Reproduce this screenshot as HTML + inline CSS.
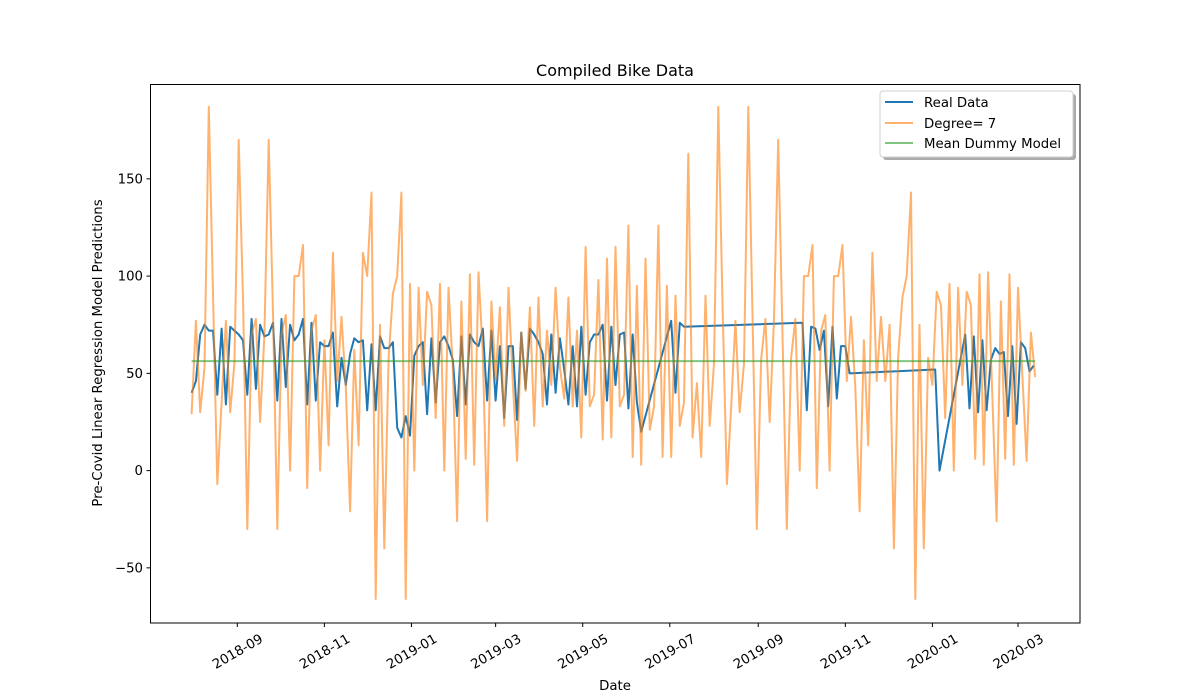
<!DOCTYPE html>
<html><head><meta charset="utf-8"><title>Compiled Bike Data</title>
<style>
html,body{margin:0;padding:0;background:#fff;}
svg{display:block;font-family:"DejaVu Sans","Liberation Sans",sans-serif;}
</style></head>
<body>
<svg id="chart" width="1200" height="700" viewBox="0 0 1200 700" xmlns="http://www.w3.org/2000/svg">
<rect width="1200" height="700" fill="#fff"/>
<text x="615" y="76" font-size="16" text-anchor="middle">Compiled Bike Data</text>
<text x="615" y="690" font-size="13.3" text-anchor="middle">Date</text>
<text transform="translate(102,353) rotate(-90)" font-size="13.3" text-anchor="middle">Pre-Covid Linear Regression Model Predictions</text>
<g id="plot"></g>
<rect x="150.5" y="84.5" width="929.5" height="538.5" fill="none" stroke="#000" stroke-width="1"/>
<g id="xticks"></g>
<g id="yticks"></g>
<g>
  <rect x="883" y="94" width="193" height="66" rx="3" fill="#888" opacity="0.7"/>
  <rect x="880" y="91" width="193" height="66" rx="3" fill="#fff" stroke="#d0d0d0"/>
  <g>
    <line x1="885" y1="102" x2="913" y2="102" stroke="#1f77b4" stroke-width="2"/>
    <text x="924" y="107" font-size="13.3">Real Data</text>
  </g>
  <g>
    <line x1="885" y1="123" x2="913" y2="123" stroke="#ff7f0e" stroke-opacity="0.6" stroke-width="2"/>
    <text x="924" y="128" font-size="13.3">Degree= 7</text>
  </g>
  <g>
    <line x1="885" y1="143" x2="913" y2="143" stroke="#2ca02c" stroke-opacity="0.6" stroke-width="2"/>
    <text x="924" y="148" font-size="13.3">Mean Dummy Model</text>
  </g>
</g>
</svg>
<script>
// Days are offsets from 2018-08-01
const realDays = [-1,2,5,8,11,14,17,20,23,26,29,32,35,38,41,44,47,50,53,56,59,62,65,68,71,74,77,80,83,86,89,92,95,98,101,104,107,110,113,116,119,122,125,128,131,134,137,140,143,146,149,152,155,
158,161,164,167,170,173,176,179,182,185,188,191,194,197,200,203,206,209,212,215,218,221,224,227,230,233,236,239,242,245,248,251,254,257,260,263,266,269,272,275,278,281,284,287,290,293,296,299,302,305,308,
311,314,335,338,341,344,427,430,433,436,439,442,445,448,451,454,457,460,
520,523,541,544,547,550,553,556,559,562,565,568,571,574,577,580,583,586,589];
const realValues = [40,46,70,75,72,72,39,73,34,74,72,70,67,39,78,42,75,69,70,76,36,78,43,75,67,70,78,34,76,36,66,64,64,71,33,58,44,60,68,66,67,31,65,31,69,63,63,66,22,17,28,18,59,
64,66,29,68,35,66,69,64,57,28,69,34,70,66,64,73,36,72,36,64,27,64,64,26,71,42,73,70,66,60,34,70,40,68,52,34,64,33,74,39,66,70,70,75,36,74,44,70,71,32,70,
35,20,77,40,76,74,76,31,74,73,62,72,33,74,37,64,64,50,
52,0,70,32,69,30,67,31,57,63,60,61,28,64,24,66,63,51,54];
const predDays = [-1,2,5,8,11,17,23,26,29,32,35,38,41,44,47,50,53,56,59,62,65,68,71,74,77,80,83,86,89,92,95,98,101,104,107,110,113,116,119,122,125,128,131,134,137,140,143,146,149,152,155,
158,161,164,167,170,173,176,179,182,185,188,191,194,197,200,203,206,209,212,215,218,221,224,227,230,233,236,239,242,245,248,251,254,257,260,263,266,269,272,275,278,281,284,287,290,293,296,299,302,305,308,
311,314,317,320,323,326,329,332,335,338,341,344,347,350,353,356,359,362,365,368,371,374,377,380,383,386,389,395,398,401,404,407,410,416,419,422,425,428,431,434,437,440,443,446,449,452,455,458,461,
464,467,470,473,476,479,482,485,488,491,494,497,500,503,506,509,512,515,518,521,524,527,530,533,536,539,542,545,548,551,554,557,563,566,569,572,575,578,584,587,590];
const predValues = [29,77,30,53,187,-7,77,30,55,170,89,-30,70,78,25,70,170,81,-30,70,80,0,100,100,116,-9,72,80,0,67,13,112,46,79,43,-21,62,13,112,100,143,-66,75,-40,58,91,100,143,-66,96,0,
94,44,92,85,27,96,0,94,53,-26,87,6,101,3,102,60,-26,87,47,84,23,94,45,5,71,41,84,23,89,33,72,44,94,53,37,89,33,72,17,115,33,39,98,16,109,17,115,33,39,126,7,
95,3,109,21,33,126,7,95,7,90,23,35,163,17,45,7,90,23,55,187,84,-7,32,77,30,55,187,-30,57,78,25,78,170,-30,58,78,0,100,100,116,-9,72,80,0,100,100,116,46,79,
43,-21,67,13,112,46,79,46,75,-40,58,89,100,143,-66,75,-40,58,44,92,85,27,96,0,94,44,92,85,6,101,3,102,-26,87,6,101,3,94,5,71,48];
const meanValue = [56.3];
const meanDays = [-1,590];
const yTicks = [-50,0,50,100,150];
const xTickLabels = ["2018-09","2018-11","2019-01","2019-03","2019-05","2019-07","2019-09","2019-11","2020-01","2020-03"];

const NS = "http://www.w3.org/2000/svg";
const base = Date.UTC(2018,7,1);
function dayOf(label){const p=label.split('-');return (Date.UTC(+p[0],+p[1]-1,1)-base)/86400000;}
function xScale(d){return 237.3 + (d-31)*1.4273;}
function yScale(v){return 470.6 - v*1.945;}

const plot = document.getElementById('plot');
function drawLine(days, vals, color, opacity, name){
  const pts = days.map((d,i)=>xScale(d).toFixed(1)+','+yScale(vals[i]).toFixed(1)).join(' ');
  const pl = document.createElementNS(NS,'polyline');
  pl.setAttribute('points', pts);
  pl.setAttribute('fill','none');
  pl.setAttribute('stroke', color);
  pl.setAttribute('stroke-opacity', opacity);
  pl.setAttribute('stroke-width','2');
  pl.setAttribute('stroke-linejoin','round');
  
  
  plot.appendChild(pl);
}
drawLine(realDays, realValues, '#1f77b4', 1, 'real-data-line');
drawLine(predDays, predValues, '#ff7f0e', 0.6, 'degree-7-line');
drawLine(meanDays, [meanValue[0], meanValue[0]], '#2ca02c', 0.6, 'mean-dummy-line');

const yg = document.getElementById('yticks');
yTicks.forEach(v=>{
  const y = yScale(v);
  const l = document.createElementNS(NS,'line');
  l.setAttribute('x1',146.5); l.setAttribute('x2',150.5);
  l.setAttribute('y1',y); l.setAttribute('y2',y);
  l.setAttribute('stroke','#000');
  
  
  yg.appendChild(l);
  const t = document.createElementNS(NS,'text');
  t.setAttribute('x',143); t.setAttribute('y',y+4.5);
  t.setAttribute('font-size','13.3'); t.setAttribute('text-anchor','end');
  t.textContent = v<0 ? '\u2212'+Math.abs(v) : String(v);
  
  
  yg.appendChild(t);
});

const xg = document.getElementById('xticks');
xTickLabels.forEach(lab=>{
  const x = xScale(dayOf(lab));
  const l = document.createElementNS(NS,'line');
  l.setAttribute('x1',x); l.setAttribute('x2',x);
  l.setAttribute('y1',623); l.setAttribute('y2',627);
  l.setAttribute('stroke','#000');
  
  
  xg.appendChild(l);
  const t = document.createElementNS(NS,'text');
  t.setAttribute('x',x); t.setAttribute('y',656);
  t.setAttribute('font-size','13.3'); t.setAttribute('text-anchor','middle');
  t.setAttribute('transform','rotate(-30 '+x+' 651)');
  t.textContent = lab;
  
  
  xg.appendChild(t);
});
</script>
</body></html>
